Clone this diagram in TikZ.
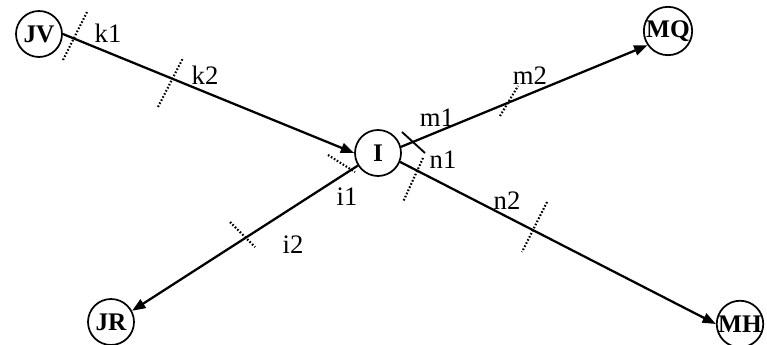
\documentclass[tikz,border=0pt]{standalone}
\usepackage{fontspec}
\setmainfont{Liberation Serif}
\usetikzlibrary{arrows.meta}

\begin{document}
\begin{tikzpicture}[
    x=0.75pt,y=-0.75pt,
    city/.style={circle, draw=black, line width=1.3pt, inner sep=0pt, minimum size=34.5pt, font=\fontsize{19}{19}\selectfont\bfseries},
    road/.style={draw=black, line width=1.7pt, -{Triangle[length=10pt,width=7.5pt]}},
    tick/.style={draw=black, line width=1.6pt, dash pattern=on 1.2pt off 1.4pt},
    hardtick/.style={draw=black, line width=1.4pt},
    lbl/.style={font=\fontsize{20}{20}\selectfont, inner sep=0pt}
  ]
    \useasboundingbox (0,0) rectangle (767,345);

    \node[city] (jv) at (39,34) {JV};
    \node[city] (i) at (378,153) {I};
    \node[city] (mq) at (668,31) {MQ};
    \node[city] (jr) at (111,322) {JR};
    \node[city] (mh) at (740,324) {MH};

    \draw[road] (jv.east) -- (i.west);
    \draw[road] (i.15) -- (mq.215);
    \draw[road] (i.-22) -- (mh.west);
    \draw[road] (i.212) -- (jr.28);

    % detectors
    \draw[tick] (63,60) -- (87,12);
    \node[lbl] (k1) at (108,33) {k1};
    \draw[tick] (158,107) -- (183,58);
    \node[lbl] (k2) at (205,75) {k2};

    \draw[hardtick] (402,132) -- (425,153);
    \node[lbl] (m1) at (437,118) {m1};
    \draw[tick] (500,116) -- (518,86);
    \node[lbl] (m2) at (530,76) {m2};

    \draw[tick] (423,158) -- (403,202);
    \node[lbl] (n1) at (443,160) {n1};
    \draw[tick] (547,202) -- (522,252);
    \node[lbl] (n2) at (507,201) {n2};

    \draw[tick] (328,155) -- (355,172);
    \node[lbl] (i1) at (347,197) {i1};
    \draw[tick] (230,222) -- (255,247);
    \node[lbl] (i2) at (293,245) {i2};
  \end{tikzpicture}
\end{document}
